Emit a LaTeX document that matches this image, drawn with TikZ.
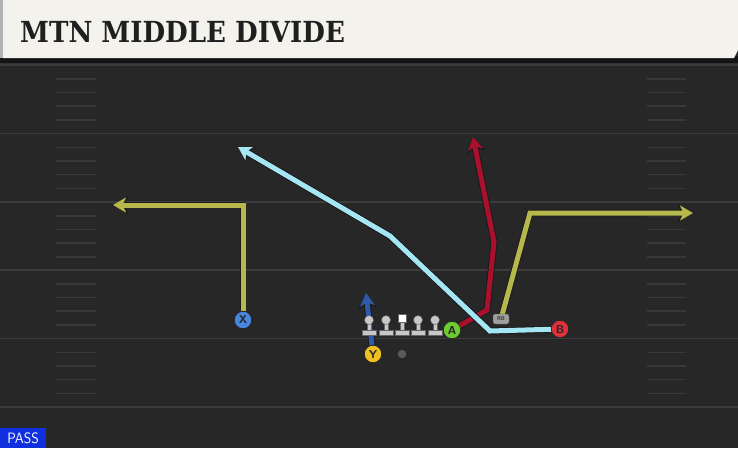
\documentclass[tikz,border=0pt]{standalone}
\usepackage{fontspec}
\setmainfont{DejaVu Sans}
\newfontfamily\titlefont{DejaVu Serif}
\usetikzlibrary{arrows.meta}
\definecolor{fieldc}{HTML}{272727}
\definecolor{yardc}{HTML}{3C3C3C}
\definecolor{hashc}{HTML}{383838}
\definecolor{creamc}{HTML}{F4F2EC}
\definecolor{olivec}{HTML}{B6B84C}
\definecolor{cyanc}{HTML}{A5E6F5}
\definecolor{redc}{HTML}{A8102E}
\definecolor{bluer}{HTML}{2E5AA8}
\definecolor{xbluec}{HTML}{4A86E0}
\definecolor{yyelc}{HTML}{F0C020}
\definecolor{agreenc}{HTML}{6CCC30}
\definecolor{bredc}{HTML}{E0303A}
\definecolor{passc}{HTML}{1030E0}
\definecolor{linec}{HTML}{C8C8C8}
\pgfdeclarelayer{fieldlayer}
\pgfdeclarelayer{routelayer}
\pgfsetlayers{fieldlayer,routelayer,main}
\tikzset{
  player/.style={circle, draw=black!85, line width=0.8pt, minimum size=17.5pt, inner sep=0pt, font=\sffamily\bfseries\fontsize{11.5}{11.5}\selectfont, text=black!85},
  route/.style={line width=5pt, color=#1, line join=miter, preaction={draw=black!90, line width=6.8pt, -{Stealth[length=15pt,width=18pt,inset=4pt]}}, -{Stealth[length=13pt,width=15pt,inset=3.5pt]}},
  hashm/.style={draw=hashc, line width=1.6pt},
  yardl/.style={draw=yardc, line width=1.8pt},
  lineman/.style={fill=linec, draw=black!60, line width=0.4pt}
}
\begin{document}
\begin{tikzpicture}[x=1pt,y=-1pt]
\useasboundingbox (0,0) rectangle (738,448);
\begin{pgfonlayer}{fieldlayer}
  \fill[fieldc] (0,0) rectangle (738,448);
  \fill[black!92] (0,56) rectangle (738,63);
  \fill[black!80] (0,63) rectangle (738,65);
  \fill[creamc] (3,0) -- (738,0) -- (738,50) -- (734,58) -- (3,58) -- cycle;
  \fill[gray!60] (0,0) rectangle (3,58);
  \foreach \y in {65,133.5,202,270,338.5,407} {\draw[yardl] (0,\y) -- (738,\y);}
  \foreach \b in {65,133.5,202,270,338.5} {
    \foreach \o in {14,27.5,41,55} {
      \draw[hashm] (56,\b+\o) -- (96,\b+\o);
      \draw[hashm] (647,\b+\o) -- (686,\b+\o);
    }
  }
\end{pgfonlayer}
\node[anchor=base west, inner sep=0pt, text=black!88] (title) at (20,42) {\scalebox{0.9}[1]{\titlefont\bfseries\fontsize{29}{29}\selectfont MTN MIDDLE DIVIDE}};
\node[anchor=south west, fill=passc, text=white, inner sep=0pt, minimum width=46pt, minimum height=20pt, font=\sffamily\fontsize{15}{15}\selectfont] (pass) at (0,448) {\scalebox{0.92}[1]{PASS}};
% linemen
\foreach \n/\x in {l1/369,l2/386,l4/418,l5/435} {
  \fill[lineman] (\x-7,330) rectangle (\x+7,335.5);
  \fill[lineman] (\x-2,322) rectangle (\x+2,330);
  \node[circle, fill=linec, draw=black!60, line width=0.4pt, minimum size=9pt, inner sep=0pt] (\n) at (\x,320) {};
}
\fill[lineman] (395,330) rectangle (409,335.5);
\fill[lineman] (400,321) rectangle (404,330);
\node[fill=white, draw=black!60, line width=0.4pt, minimum size=8.5pt, inner sep=0pt] (c) at (402,318) {};
\node[circle, fill=gray!70!black, minimum size=8.5pt, inner sep=0pt] (qb) at (402,354) {};
% players
\node[player, fill=xbluec] (X) at (243,320) {X};
\node[player, fill=yyelc] (Y) at (373,354) {Y};
\node[player, fill=agreenc] (A) at (452,330) {A};
\node[player, fill=bredc] (B) at (560,329) {B};
\node[fill=gray!75, draw=black!70, line width=0.4pt, rounded corners=2pt, minimum width=16pt, minimum height=10pt, inner sep=0pt, font=\sffamily\bfseries\fontsize{5.5}{5.5}\selectfont, text=black!80] (RB) at (501,319) {RB};
% route points
\coordinate (x1) at (243,205);
\coordinate (x2) at (113,205);
\coordinate (y1) at (366,293);
\coordinate (a1) at (487,310);
\coordinate (a2) at (494,242);
\coordinate (a3) at (473,137);
\coordinate (b1) at (490,331);
\coordinate (b2) at (390,236);
\coordinate (b3) at (238,147);
\coordinate (r1) at (530,213);
\coordinate (r2) at (693,213);
\begin{pgfonlayer}{routelayer}
  \draw[route=olivec] (X.north) -- (x1) -- (x2);
  \draw[route=bluer] (Y.center) -- (y1);
  \draw[route=redc] (A.center) -- (a1) -- (a2) -- (a3);
  \draw[route=cyanc] (B.center) -- (b1) -- (b2) -- (b3);
  \draw[route=olivec] (RB.center) -- (r1) -- (r2);
\end{pgfonlayer}
\end{tikzpicture}
\end{document}
